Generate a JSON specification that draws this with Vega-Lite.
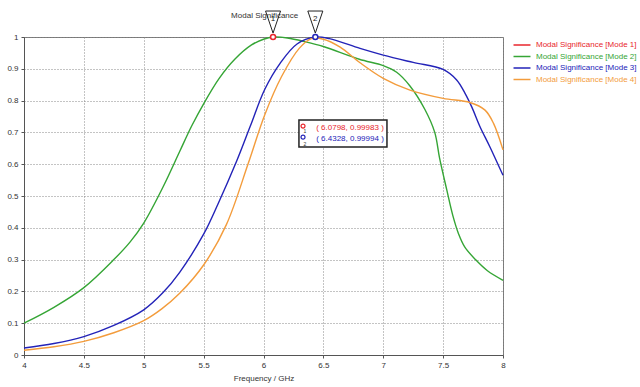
{
  "$schema": "https://vega.github.io/schema/vega-lite/v6.json",
  "width": 479,
  "height": 318,
  "autosize": {"type": "none"},
  "padding": {"left": 24, "top": 37, "right": 137, "bottom": 32},
  "background": "white",
  "config": {
    "font": "Liberation Sans",
    "view": {"stroke": "#777", "strokeWidth": 1},
    "axis": {
      "labelFontSize": 8,
      "labelColor": "#333",
      "domainColor": "#555",
      "tickColor": "#555",
      "tickSize": 3,
      "gridColor": "#888",
      "gridDash": [1, 2],
      "gridOpacity": 1,
      "titleFontSize": 8,
      "titleFontWeight": "normal",
      "titleColor": "#333"
    }
  },
  "datasets": {
    "curves": [
      {"mode": "Modal Significance [Mode 2]", "f": 4.0, "v": 0.10},
      {"mode": "Modal Significance [Mode 2]", "f": 4.25, "v": 0.15},
      {"mode": "Modal Significance [Mode 2]", "f": 4.5, "v": 0.212},
      {"mode": "Modal Significance [Mode 2]", "f": 4.75, "v": 0.30},
      {"mode": "Modal Significance [Mode 2]", "f": 4.885, "v": 0.355},
      {"mode": "Modal Significance [Mode 2]", "f": 5.0, "v": 0.415},
      {"mode": "Modal Significance [Mode 2]", "f": 5.163, "v": 0.53},
      {"mode": "Modal Significance [Mode 2]", "f": 5.3, "v": 0.64},
      {"mode": "Modal Significance [Mode 2]", "f": 5.4, "v": 0.72},
      {"mode": "Modal Significance [Mode 2]", "f": 5.5, "v": 0.79},
      {"mode": "Modal Significance [Mode 2]", "f": 5.63, "v": 0.87},
      {"mode": "Modal Significance [Mode 2]", "f": 5.76, "v": 0.93},
      {"mode": "Modal Significance [Mode 2]", "f": 5.9, "v": 0.975},
      {"mode": "Modal Significance [Mode 2]", "f": 6.0, "v": 0.993},
      {"mode": "Modal Significance [Mode 2]", "f": 6.08, "v": 1.0},
      {"mode": "Modal Significance [Mode 2]", "f": 6.2, "v": 0.997},
      {"mode": "Modal Significance [Mode 2]", "f": 6.35, "v": 0.985},
      {"mode": "Modal Significance [Mode 2]", "f": 6.5, "v": 0.97},
      {"mode": "Modal Significance [Mode 2]", "f": 6.8, "v": 0.93},
      {"mode": "Modal Significance [Mode 2]", "f": 7.0, "v": 0.91},
      {"mode": "Modal Significance [Mode 2]", "f": 7.112, "v": 0.889},
      {"mode": "Modal Significance [Mode 2]", "f": 7.223, "v": 0.846},
      {"mode": "Modal Significance [Mode 2]", "f": 7.348, "v": 0.772},
      {"mode": "Modal Significance [Mode 2]", "f": 7.43, "v": 0.70},
      {"mode": "Modal Significance [Mode 2]", "f": 7.47, "v": 0.62},
      {"mode": "Modal Significance [Mode 2]", "f": 7.53, "v": 0.52},
      {"mode": "Modal Significance [Mode 2]", "f": 7.58, "v": 0.44},
      {"mode": "Modal Significance [Mode 2]", "f": 7.63, "v": 0.38},
      {"mode": "Modal Significance [Mode 2]", "f": 7.68, "v": 0.34},
      {"mode": "Modal Significance [Mode 2]", "f": 7.77, "v": 0.30},
      {"mode": "Modal Significance [Mode 2]", "f": 7.87, "v": 0.265},
      {"mode": "Modal Significance [Mode 2]", "f": 8.0, "v": 0.235},

      {"mode": "Modal Significance [Mode 3]", "f": 4.0, "v": 0.022},
      {"mode": "Modal Significance [Mode 3]", "f": 4.25, "v": 0.036},
      {"mode": "Modal Significance [Mode 3]", "f": 4.5, "v": 0.058},
      {"mode": "Modal Significance [Mode 3]", "f": 4.75, "v": 0.093},
      {"mode": "Modal Significance [Mode 3]", "f": 5.0, "v": 0.142},
      {"mode": "Modal Significance [Mode 3]", "f": 5.163, "v": 0.197},
      {"mode": "Modal Significance [Mode 3]", "f": 5.3, "v": 0.26},
      {"mode": "Modal Significance [Mode 3]", "f": 5.5, "v": 0.38},
      {"mode": "Modal Significance [Mode 3]", "f": 5.62, "v": 0.475},
      {"mode": "Modal Significance [Mode 3]", "f": 5.776, "v": 0.61},
      {"mode": "Modal Significance [Mode 3]", "f": 5.89, "v": 0.72},
      {"mode": "Modal Significance [Mode 3]", "f": 6.01, "v": 0.835},
      {"mode": "Modal Significance [Mode 3]", "f": 6.14, "v": 0.918},
      {"mode": "Modal Significance [Mode 3]", "f": 6.28, "v": 0.978},
      {"mode": "Modal Significance [Mode 3]", "f": 6.43, "v": 1.0},
      {"mode": "Modal Significance [Mode 3]", "f": 6.55, "v": 0.995},
      {"mode": "Modal Significance [Mode 3]", "f": 6.806, "v": 0.964},
      {"mode": "Modal Significance [Mode 3]", "f": 7.0, "v": 0.943},
      {"mode": "Modal Significance [Mode 3]", "f": 7.25, "v": 0.92},
      {"mode": "Modal Significance [Mode 3]", "f": 7.5, "v": 0.898},
      {"mode": "Modal Significance [Mode 3]", "f": 7.613, "v": 0.865},
      {"mode": "Modal Significance [Mode 3]", "f": 7.683, "v": 0.823},
      {"mode": "Modal Significance [Mode 3]", "f": 7.738, "v": 0.781},
      {"mode": "Modal Significance [Mode 3]", "f": 7.808, "v": 0.718},
      {"mode": "Modal Significance [Mode 3]", "f": 7.89, "v": 0.655},
      {"mode": "Modal Significance [Mode 3]", "f": 8.0, "v": 0.565},

      {"mode": "Modal Significance [Mode 4]", "f": 4.0, "v": 0.015},
      {"mode": "Modal Significance [Mode 4]", "f": 4.25, "v": 0.026},
      {"mode": "Modal Significance [Mode 4]", "f": 4.5, "v": 0.043},
      {"mode": "Modal Significance [Mode 4]", "f": 4.75, "v": 0.07},
      {"mode": "Modal Significance [Mode 4]", "f": 5.0, "v": 0.108},
      {"mode": "Modal Significance [Mode 4]", "f": 5.15, "v": 0.145},
      {"mode": "Modal Significance [Mode 4]", "f": 5.3, "v": 0.194},
      {"mode": "Modal Significance [Mode 4]", "f": 5.5, "v": 0.283},
      {"mode": "Modal Significance [Mode 4]", "f": 5.69, "v": 0.41},
      {"mode": "Modal Significance [Mode 4]", "f": 5.873, "v": 0.603},
      {"mode": "Modal Significance [Mode 4]", "f": 6.01, "v": 0.755},
      {"mode": "Modal Significance [Mode 4]", "f": 6.15, "v": 0.875},
      {"mode": "Modal Significance [Mode 4]", "f": 6.3, "v": 0.965},
      {"mode": "Modal Significance [Mode 4]", "f": 6.4, "v": 0.995},
      {"mode": "Modal Significance [Mode 4]", "f": 6.5, "v": 0.993},
      {"mode": "Modal Significance [Mode 4]", "f": 6.64, "v": 0.968},
      {"mode": "Modal Significance [Mode 4]", "f": 6.806, "v": 0.919},
      {"mode": "Modal Significance [Mode 4]", "f": 7.0, "v": 0.87},
      {"mode": "Modal Significance [Mode 4]", "f": 7.223, "v": 0.833},
      {"mode": "Modal Significance [Mode 4]", "f": 7.5, "v": 0.807},
      {"mode": "Modal Significance [Mode 4]", "f": 7.724, "v": 0.794},
      {"mode": "Modal Significance [Mode 4]", "f": 7.85, "v": 0.77},
      {"mode": "Modal Significance [Mode 4]", "f": 7.92, "v": 0.729},
      {"mode": "Modal Significance [Mode 4]", "f": 8.0, "v": 0.645}
    ]
  },
  "encoding": {
    "x": {
      "field": "f", "type": "quantitative",
      "scale": {"domain": [4, 8], "nice": false},
      "axis": {"values": [4, 4.5, 5, 5.5, 6, 6.5, 7, 7.5, 8], "format": "~g", "title": "Frequency / GHz", "labelFlush": false, "labelPadding": 3, "titlePadding": 5}
    },
    "y": {
      "field": "v", "type": "quantitative",
      "scale": {"domain": [0, 1], "nice": false},
      "axis": {"values": [0, 0.1, 0.2, 0.3, 0.4, 0.5, 0.6, 0.7, 0.8, 0.9, 1], "format": "~g", "title": null, "labelFlush": false, "labelPadding": 3}
    }
  },
  "layer": [
    {
      "data": {"name": "curves"},
      "mark": {"type": "line", "interpolate": "catmull-rom", "strokeWidth": 1.4},
      "encoding": {
        "color": {
          "field": "mode", "type": "nominal",
          "scale": {
            "domain": ["Modal Significance [Mode 1]", "Modal Significance [Mode 2]", "Modal Significance [Mode 3]", "Modal Significance [Mode 4]"],
            "range": ["#e8262c", "#35a535", "#2323b8", "#f39c3c"]
          },
          "legend": {
            "orient": "none", "legendX": 493, "legendY": 3, "title": null,
            "symbolType": "M-2,0H2", "symbolSize": 72, "symbolStrokeWidth": 1.5,
            "labelFontSize": 8, "labelOffset": 9, "rowPadding": 2.5,
            "encode": {"labels": {"update": {"fill": {"scale": "color", "field": "value"}}}}
          }
        }
      }
    },
    {
      "data": {"values": [{"f": 6.01, "v": 1.065, "t": "Modal Significance"}]},
      "mark": {"type": "text", "fontSize": 8, "color": "#333", "align": "center", "baseline": "middle"},
      "encoding": {"text": {"field": "t"}}
    },
    {
      "data": {"values": [{"f": 6.0798, "v": 1.047, "n": "1"}, {"f": 6.4328, "v": 1.047, "n": "2"}]},
      "mark": {"type": "point", "shape": "M-1,-1.47L1,-1.47L0,1.47Z", "size": 225, "filled": false, "stroke": "#222", "strokeWidth": 1, "opacity": 1}
    },
    {
      "data": {"values": [{"f": 6.0798, "v": 1.056, "n": "1"}, {"f": 6.4328, "v": 1.056, "n": "2"}]},
      "mark": {"type": "text", "fontSize": 8, "color": "#222", "align": "center", "baseline": "middle"},
      "encoding": {"text": {"field": "n"}}
    },
    {
      "data": {"values": [{"f": 6.0798, "v": 0.99983}]},
      "mark": {"type": "point", "shape": "circle", "size": 25, "filled": true, "fill": "white", "stroke": "#e8262c", "strokeWidth": 1.5, "opacity": 1}
    },
    {
      "data": {"values": [{"f": 6.4328, "v": 0.99994}]},
      "mark": {"type": "point", "shape": "circle", "size": 25, "filled": true, "fill": "white", "stroke": "#2323b8", "strokeWidth": 1.5, "opacity": 1}
    },
    {
      "data": {"values": [{"f": 6.296, "f2": 7.031, "v": 0.739, "v2": 0.654}]},
      "mark": {"type": "rect", "fill": "white", "stroke": "#222", "strokeWidth": 1.5},
      "encoding": {"x2": {"field": "f2"}, "y2": {"field": "v2"}}
    },
    {
      "data": {"values": [{"f": 6.44, "v": 0.714, "t": "( 6.0798, 0.99983 )"}]},
      "mark": {"type": "text", "fontSize": 8, "color": "#e8262c", "align": "left", "baseline": "middle"},
      "encoding": {"text": {"field": "t"}}
    },
    {
      "data": {"values": [{"f": 6.44, "v": 0.679, "t": "( 6.4328, 0.99994 )"}]},
      "mark": {"type": "text", "fontSize": 8, "color": "#2323b8", "align": "left", "baseline": "middle"},
      "encoding": {"text": {"field": "t"}}
    },
    {
      "data": {"values": [{"f": 6.33, "v": 0.72}]},
      "mark": {"type": "point", "shape": "circle", "size": 16, "filled": true, "fill": "white", "stroke": "#e8262c", "strokeWidth": 1.2, "opacity": 1}
    },
    {
      "data": {"values": [{"f": 6.33, "v": 0.685}]},
      "mark": {"type": "point", "shape": "circle", "size": 16, "filled": true, "fill": "white", "stroke": "#2323b8", "strokeWidth": 1.2, "opacity": 1}
    },
    {
      "data": {"values": [{"f": 6.345, "v": 0.703, "t": "1"}, {"f": 6.345, "v": 0.664, "t": "2"}]},
      "mark": {"type": "text", "fontSize": 5, "color": "#333", "align": "center", "baseline": "middle"},
      "encoding": {"text": {"field": "t"}}
    }
  ]
}
